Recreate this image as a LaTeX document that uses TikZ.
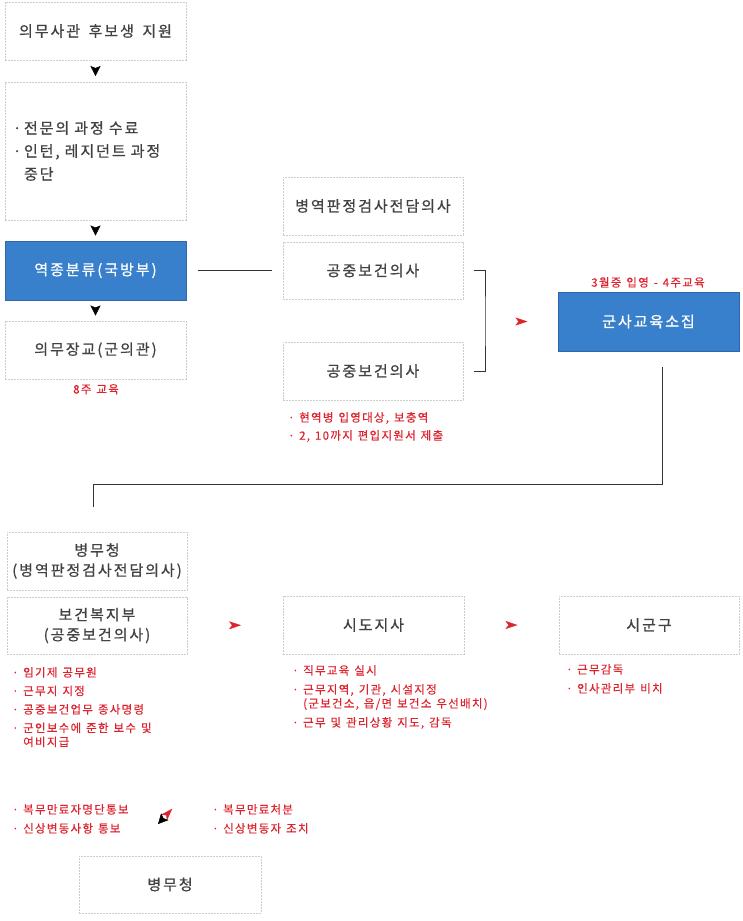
\documentclass[tikz,border=0pt]{standalone}
\usepackage{fontspec}
\setmainfont{Noto Sans CJK KR}
\newfontfamily\boxfont[LetterSpace=13, WordSpace=1.6, FakeBold=0.8]{Noto Sans CJK KR}
\newfontfamily\notefont[LetterSpace=11, WordSpace=1.3, FakeBold=0.4]{Noto Sans CJK KR}
\usepackage{tikz}
\usetikzlibrary{arrows.meta,positioning,calc,decorations.markings}

\definecolor{boxblue}{RGB}{56,128,204}
\definecolor{boxedge}{RGB}{47,104,170}
\definecolor{notered}{RGB}{221,36,46}
\definecolor{boxtext}{RGB}{66,66,66}
\definecolor{dashgray}{RGB}{205,205,205}

\newcommand{\rdot}{\makebox[11pt][l]{·}}
\newcommand{\rgap}{\hspace*{11pt}}

\begin{document}
\begin{tikzpicture}[x=1pt, y=-1pt,
    box/.style={draw=dashgray, dash pattern=on 2pt off 1pt, minimum width=181pt, minimum height=58pt, inner sep=0pt, align=center, text=boxtext, font=\boxfont\fontsize{15}{20}\selectfont},
    bluebox/.style={box, draw=boxedge, solid, fill=boxblue, text=white, minimum height=59pt},
    note/.style={anchor=north west, inner sep=0pt, align=left, text=notered, font=\notefont\fontsize{11.5}{14}\selectfont},
    link/.style={draw=black!80, line width=1pt},
    blackhead/.style={decoration={markings, mark=at position #1 with {\arrow[xshift=5pt]{Stealth[length=10pt, width=10pt, inset=2pt]}}}, postaction={decorate}, black},
    blackhead/.default=0.5,
    redhead/.style={decoration={markings, mark=at position #1 with {\arrow[xshift=6pt]{Stealth[length=12pt, width=8pt, inset=3pt]}}}, postaction={decorate}, notered},
    redhead/.default=0.5]

    \useasboundingbox (0,0) rectangle (743,921);

    % Left column
    \node[box] (apply) at (95.5,31) {의무사관 후보생 지원};
    \node[box, minimum height=138pt, text width=165pt, align=left, font=\boxfont\fontsize{15}{23}\selectfont] (course) at (95.5,151) {\rdot 전문의 과정 수료\\\rdot 인턴, 레지던트 과정\\\rgap 중단};
    \node[bluebox] (sort) at (95.5,270.5) {역종분류(국방부)};
    \node[box] (officer) at (95.5,350) {의무장교(군의관)};
    \node[note, anchor=north] (officernote) at (96,384) {8주 교육};

    % Middle column
    \node[box, minimum width=180pt] (exam) at (373,206) {병역판정검사전담의사};
    \node[box, minimum width=180pt, minimum height=57pt] (phd1) at (373,270.5) {공중보건의사};
    \node[box, minimum width=180pt] (phd2) at (373,371) {공중보건의사};
    \node[note] (phdnote) at (288,412) {\rdot 현역병 입영대상, 보충역\\[4pt]\rdot 2, 10까지 편입지원서 제출};
    \coordinate (brk) at (485,321.5);

    % Right column
    \node[note, anchor=north] (edunote) at (648,277) {3월중 입영 - 4주교육};
    \node[bluebox] (edu) at (648.5,321.5) {군사교육소집};

    % Lower row
    \node[box, minimum width=180pt] (mma) at (97,561) {병무청\\(병역판정검사전담의사)};
    \node[box, minimum width=180pt, minimum height=57pt] (mohw) at (97,625.5) {보건복지부\\(공중보건의사)};
    \node[box] (gov) at (373.5,625) {시도지사};
    \node[box, minimum width=180pt] (city) at (649,625) {시군구};
    \node[note] (mohwnote) at (12,667) {\rdot 임기제 공무원\\[4.5pt]\rdot 근무지 지정\\[4.5pt]\rdot 공중보건업무 종사명령\\[4.5pt]\rdot 군인보수에 준한 보수 및\\\rgap 여비지급};
    \node[note] (govnote) at (292,665) {\rdot 직무교육 실시\\[5pt]\rdot 근무지역, 기관, 시설지정\\\rgap (군보건소, 읍/면 보건소 우선배치)\\[5pt]\rdot 근무 및 관리상황 지도, 감독};
    \node[note] (citynote) at (566,664) {\rdot 근무감독\\[5pt]\rdot 인사관리부 비치};

    % Bottom
    \node[note] (reportnote) at (12,804) {\rdot 복무만료자명단통보\\[5pt]\rdot 신상변동사항 통보};
    \node[note] (actnote) at (212,804) {\rdot 복무만료처분\\[5pt]\rdot 신상변동자 조치};
    \node[box, minimum width=182pt, minimum height=57pt] (mma2) at (170,884.5) {병무청};
    \coordinate (swapL) at (145,838);
    \coordinate (swapR) at (185,795);

    % Arrow heads
    \path[blackhead] (apply) -- (course);
    \path[blackhead] (course) -- (sort);
    \path[blackhead] (sort) -- (officer);
    \path[redhead] (brk) -- (edu.west);
    \path[redhead] (mohw.east) -- (gov.west);
    \path[redhead] (gov.east) -- (city.west);
    \path[redhead=0.58] (swapL) -- (swapR);
    \path[blackhead=0.59] (swapR) -- (swapL);

    % Lines
    \draw[link] ([xshift=12pt]sort.east) -- ([xshift=-11pt]phd1.west);
    \draw[link] ([xshift=11pt]phd1.east) -| (brk) |- ([xshift=11pt]phd2.east);
    \draw[link] ([xshift=13.5pt, yshift=-16pt]edu.south) |- ([xshift=-4pt, yshift=47pt]mma.north) -- ([xshift=-4pt, yshift=25pt]mma.north);

\end{tikzpicture}
\end{document}
